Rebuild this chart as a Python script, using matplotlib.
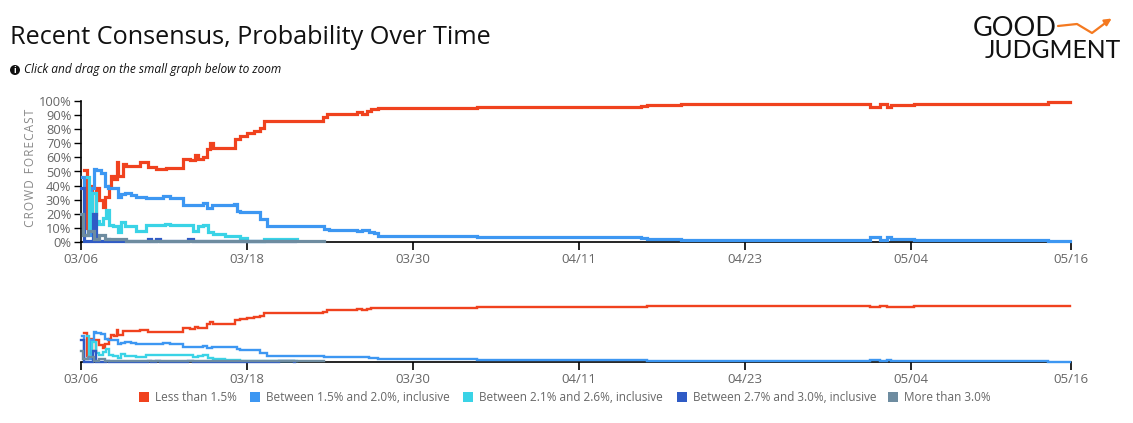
import matplotlib
matplotlib.use("Agg")
import matplotlib.pyplot as plt
from matplotlib.patches import Ellipse, Rectangle
import numpy as np

# ---------------- data (days since 03/06, probability %) ----------------
categories = ["Less than 1.5%", "Between 1.5% and 2.0%, inclusive",
              "Between 2.1% and 2.6%, inclusive", "Between 2.7% and 3.0%, inclusive",
              "More than 3.0%"]
colors = ["#F0421E", "#3D97F2", "#3AD3E6", "#2F5BC5", "#6E8CA0"]

red_t = [0.2, 0.45, 0.6, 0.8, 1.09, 1.33, 1.58, 1.77, 2.06, 2.18, 2.42, 2.59, 2.67, 3.03,
         3.27, 4.24, 4.85, 5.45, 6.18, 7.39, 7.88, 8.24, 8.48, 8.85, 9.09, 9.33, 9.58,
         11.15, 11.52, 12.0, 12.48, 12.97, 13.21, 17.52, 17.76, 19.93, 20.3, 20.66, 21.0,
         21.5, 28.6, 40.5, 40.9, 43.4, 57.05, 57.8, 58.25, 58.6, 60.2, 69.9, 71.5]
red_v = [51, 10, 40, 20, 38, 30, 25, 32, 40, 47, 45, 57, 47, 55,
         54, 57, 53, 52, 52.5, 59, 58, 62, 59, 60, 66, 70, 67,
         73, 75, 77, 79, 81, 86, 88.5, 91, 92.3, 91, 92.8, 94,
         95.2, 95.9, 96.6, 97.5, 98.2, 95.9, 98.2, 95.9, 97.2, 98.2, 99.1, 99.1]

blue_t = [0.05, 0.25, 0.7, 0.97, 1.09, 1.45, 1.70, 1.94, 2.67, 2.91, 3.15, 3.64, 4.0, 4.73,
          5.94, 6.42, 7.39, 8.85, 9.09, 9.45, 11.03, 11.27, 11.52, 12.97, 13.45, 17.6,
          17.9, 19.93, 20.3, 20.8, 21.15, 21.5, 28.6, 40.5, 40.9, 43.4, 57.05, 57.8,
          58.25, 58.6, 60.2, 69.9, 71.5]
blue_v = [46, 5, 38, 52, 51, 49, 40, 38, 32, 34, 35, 33, 32, 31.5,
          32.5, 31, 26.5, 27.5, 24, 26, 27, 22, 21, 16, 11, 9.3,
          8.6, 7.9, 8.6, 7.2, 6.2, 4.6, 3.7, 3.0, 2.3, 1.3, 3.7, 1.3,
          3.7, 2.3, 1.3, 0.6, 0.6]

cyan_t = [0.4, 0.6, 0.8, 1.09, 1.33, 1.58, 1.82, 2.06, 2.30, 2.67, 2.91, 3.15, 4.0, 4.73,
          6.06, 6.42, 8.12, 8.48, 8.85, 9.21, 9.58, 10.43, 11.52, 12.0, 13.21, 15.6]
cyan_v = [46, 10, 35, 15, 13, 17, 23, 12, 11, 7, 14, 11, 8, 12,
          12.5, 12, 8, 11, 12, 7, 6, 4, 2.5, 1, 2, 2]

dark_t = [0.0, 0.25, 0.85, 1.09, 1.82, 2.06, 4.85, 5.09, 5.45, 5.7, 7.76, 8.12, 14.3, 15.4, 15.5]
dark_v = [38, 0.5, 20, 0.5, 2, 0.5, 2, 0.5, 2, 0.5, 2, 0.5, 1, 0.5, 0.5]

gray_t = [0.0, 0.15, 0.48, 0.97, 1.33, 1.7, 3.27, 17.6]
gray_v = [20, 5, 8, 2, 5, 2, 1, 1]

series_t = [red_t, blue_t, cyan_t, dark_t, gray_t]
series_v = [red_v, blue_v, cyan_v, dark_v, gray_v]

tick_pos = [0, 12, 24, 36, 48, 60, 71.58]
tick_labels = ["03/06", "03/18", "03/30", "04/11", "04/23", "05/04", "05/16"]
y_ticks = list(range(0, 101, 10))

# ---------------- figure ----------------
W, H = 1133, 423
fig = plt.figure(figsize=(W / 100, H / 100), dpi=100)
plt.rcParams['font.family'] = ['Open Sans', 'DejaVu Sans']
TXT = "#666666"

def fx(px):
    return px / W

def fy(py):
    return 1 - py / H

x0, x1 = 81, 1071
ax = fig.add_axes([fx(x0), fy(242), fx(x1 - x0), (242 - 101) / H])
ax2 = fig.add_axes([fx(x0), fy(362), fx(x1 - x0), (362 - 305) / H])

for a, lw in ((ax, 2.3), (ax2, 1.7)):
    for t, v, c in zip(series_t, series_v, colors):
        a.plot(t, v, drawstyle="steps-post", color=c, lw=lw, solid_joinstyle="miter",
               clip_on=False, zorder=3)
    a.set_xlim(0, tick_pos[-1])
    a.set_ylim(0, 100)
    a.spines["top"].set_visible(False)
    a.spines["right"].set_visible(False)
    a.spines["bottom"].set_color("black")
    a.spines["bottom"].set_linewidth(1.2)
    a.spines["bottom"].set_zorder(2)
    a.set_xticks(tick_pos)
    a.set_xticklabels(tick_labels)
    a.tick_params(axis="x", direction="out", length=6, width=1.2, colors="black",
                  labelcolor=TXT, labelsize=9.5, pad=2)
    a.set_facecolor("none")

ax.set_yticks(y_ticks)
ax.set_yticklabels([f"{v}%" for v in y_ticks])
ax.tick_params(axis="y", direction="out", length=5, width=1, colors="black",
               labelcolor=TXT, labelsize=9.3, pad=2)
ax.spines["left"].set_color("black")
ax.spines["left"].set_linewidth(1.2)

ax2.spines["left"].set_visible(False)
ax2.set_yticks([])

fig.text(fx(31), fy(168), "\u200aC\u200aR\u200aO\u200aW\u200aD  F\u200aO\u200aR\u200aE\u200aC\u200aA\u200aS\u200aT",
         rotation=90, ha="center", va="center", color="#888888", fontsize=8.5)

# title & subtitle
fig.text(fx(10), fy(37), "Recent Consensus, Probability Over Time", fontsize=18.2,
         color="#111111", ha="left", va="center")
fig.add_artist(Ellipse((fx(15), fy(70)), width=10 / W, height=10 / H,
                       transform=fig.transFigure, facecolor="#111111", edgecolor="none"))
fig.text(fx(15), fy(70.5), "i", fontsize=6.5, color="white", ha="center", va="center",
         fontweight="bold")
fig.text(fx(24), fy(70), "Click and drag on the small graph below to zoom", fontsize=8.55,
         style="italic", color="#111111", ha="left", va="center")

# logo
fig.text(fx(973), fy(28), "GOOD", fontsize=19.5, color="#111111", ha="left", va="center",
         family=["Lato", "DejaVu Sans"])
fig.text(fx(985), fy(51), "JUDGMENT", fontsize=17.8, color="#111111", ha="left",
         va="center", family=["Lato", "DejaVu Sans"])
ax_logo = fig.add_axes([0, 0, 1, 1], facecolor="none")
ax_logo.set_xlim(0, W)
ax_logo.set_ylim(H, 0)
ax_logo.axis("off")
ax_logo.plot([1058, 1077, 1092, 1108], [26, 24, 33, 21], color="#F47920", lw=1.6,
             solid_capstyle="round")
ax_logo.annotate("", xy=(1114, 17), xytext=(1104, 23.5),
                 arrowprops=dict(arrowstyle="-|>", color="#F47920", lw=1.6,
                                 mutation_scale=10))

# legend
leg_x = [139, 250, 463, 677, 888]
for lx, lab, c in zip(leg_x, categories, colors):
    ax_logo.add_patch(Rectangle((lx, 392.5), 9.5, 9.5, facecolor=c, edgecolor="none"))
    ax_logo.text(lx + 16, 397.5, lab, fontsize=8.5, color=TXT, ha="left", va="center")

fig.savefig("out.png", dpi=100)
